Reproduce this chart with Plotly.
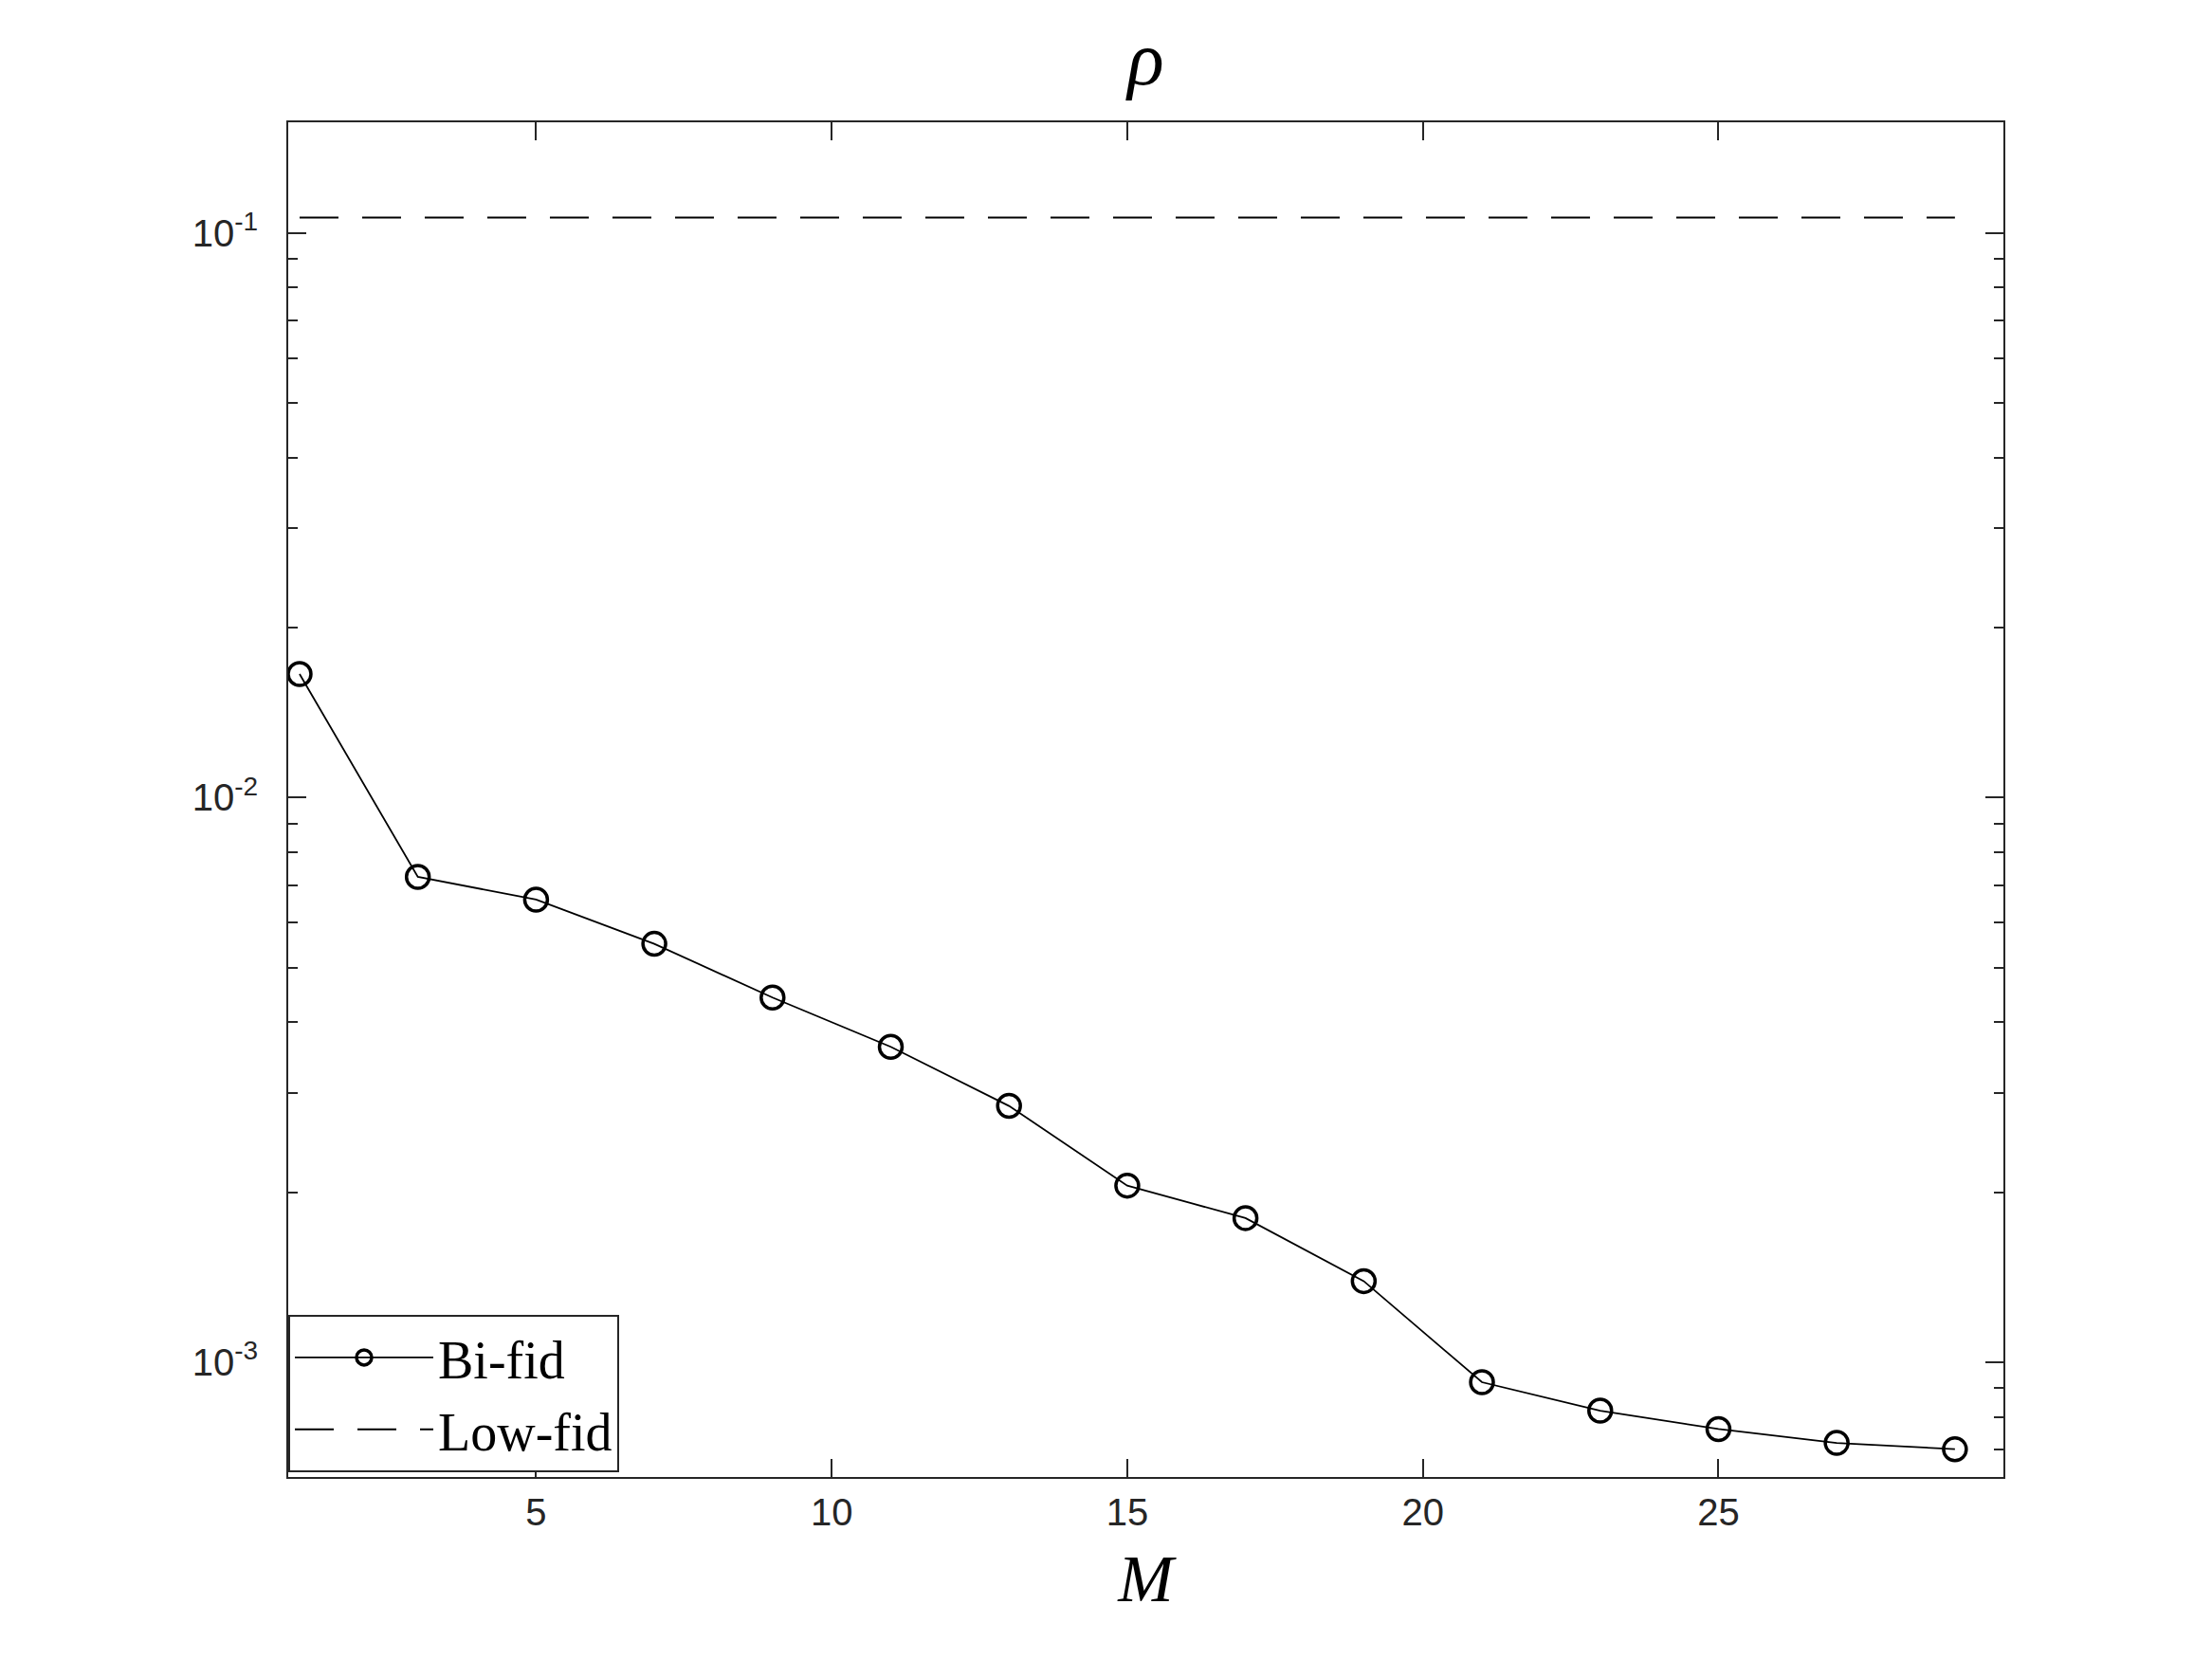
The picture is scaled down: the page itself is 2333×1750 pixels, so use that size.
import plotly.graph_objects as go

# values
M = [1, 3, 5, 7, 9, 11, 13, 15, 17, 19, 21, 23, 25, 27, 29]
rho_bifid = [0.01655, 0.007237, 0.006596, 0.005507, 0.004425, 0.003619, 0.002844,
             0.002055, 0.001800, 0.001392, 0.0009218, 0.0008209, 0.0007615,
             0.0007196, 0.0007015]
lowfid_x = [1, 29]
lowfid_y = [0.1064, 0.1064]

x_ticks = [5, 10, 15, 20, 25]
y_ticks = [1e-3, 1e-2, 1e-1]
y_ticktext = ['10<sup>-3</sup>', '10<sup>-2</sup>', '10<sup>-1</sup>']
y_minor = [m * 10.0 ** e for e in (-4, -3, -2) for m in range(2, 10)]
y_minor = [v for v in y_minor if v > 6.3e-4]

AX = '#262626'
SANS = 'Liberation Sans, Arial, sans-serif'
SERIF = 'Liberation Serif, Times New Roman, serif'

fig = go.Figure()
fig.add_trace(go.Scatter(
    x=M, y=rho_bifid, mode='lines+markers', name='Bi-fid',
    line=dict(color='black', width=1.8),
    marker=dict(symbol='circle-open', size=24, color='black', line=dict(width=3.5))))
fig.add_trace(go.Scatter(
    x=lowfid_x, y=lowfid_y, mode='lines', name='Low-fid',
    line=dict(color='black', width=2, dash='41px,25px')))

axis_common = dict(showline=True, linecolor=AX, linewidth=1.7, mirror='allticks',
                   ticks='inside', ticklen=19, tickwidth=1.7, tickcolor=AX,
                   showgrid=False, zeroline=False,
                   tickfont=dict(family=SANS, size=40, color=AX))

fig.update_xaxes(range=[0.808, 29.82], tickmode='array', tickvals=x_ticks,
                 ticklabelstandoff=1,
                 title=dict(text='<i>M</i>', font=dict(family=SERIF, size=70, color='black'),
                            standoff=24),
                 **axis_common)
fig.update_yaxes(type='log', range=[-3.2032, -0.8042], tickmode='array',
                 tickvals=y_ticks, ticktext=y_ticktext, ticklabelstandoff=22,
                 minor=dict(tickmode='array', tickvals=y_minor, ticks='inside',
                            ticklen=10, tickwidth=1.7, tickcolor=AX, showgrid=False),
                 **axis_common)

# page body adds ~8px offset, margins compensate for it
fig.update_layout(
    width=2333, height=1750,
    margin=dict(l=296, r=228, t=121, b=200),
    paper_bgcolor='white', plot_bgcolor='white',
    title=dict(text='<i>ρ</i>', font=dict(family=SERIF, size=80, color='black'),
               x=0.5, xref='paper', xanchor='center',
               y=1 - 53 / 1750, yref='container', yanchor='middle'),
    legend=dict(x=0, y=0.0035, xanchor='left', yanchor='bottom',
                bgcolor='white', bordercolor=AX, borderwidth=2,
                itemwidth=146, font=dict(family=SERIF, size=56, color='black')),
    showlegend=True,
)

fig.write_html("out.html")
